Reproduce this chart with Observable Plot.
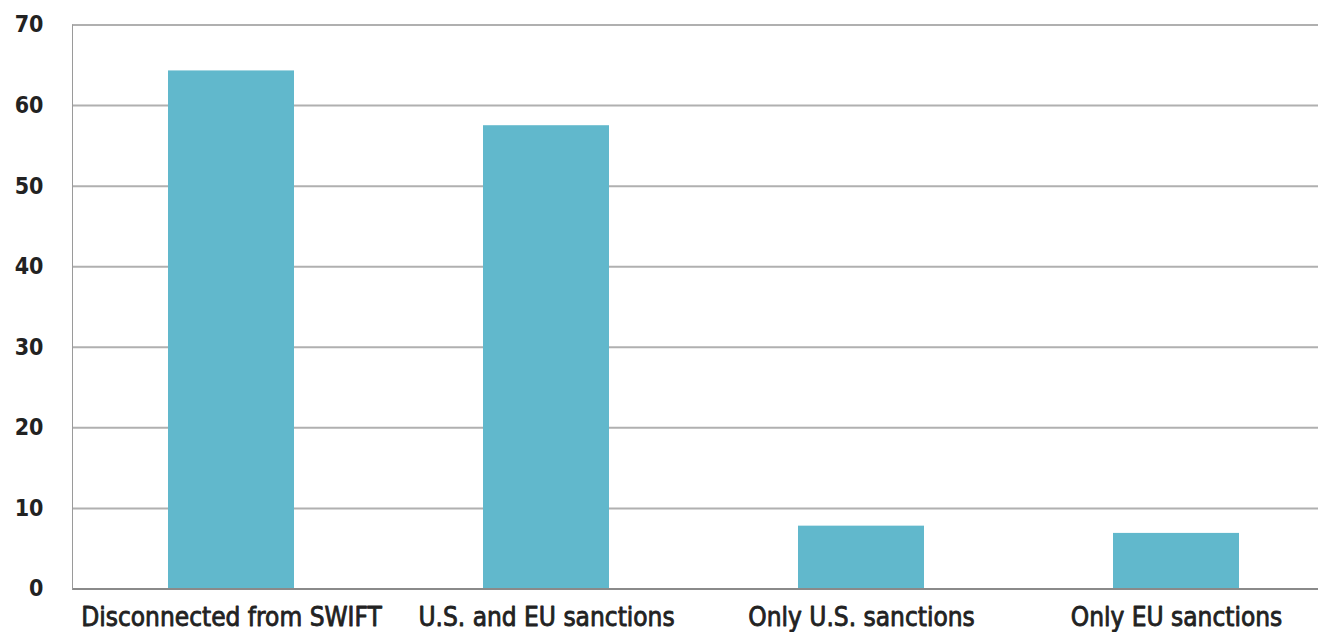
<!DOCTYPE html>
<html>
<head>
<meta charset="utf-8">
<script src="https://cdn.jsdelivr.net/npm/d3@7"></script>
<script src="https://cdn.jsdelivr.net/npm/@observablehq/plot@0.6"></script>
<style>
  html, body { margin: 0; padding: 0; background: #ffffff; }
  #chart svg { display: block; }
</style>
</head>
<body>
<div id="chart"></div>
<script>
// Share of respondents by sanction scenario
const categories = [
  "Disconnected from SWIFT",
  "U.S. and EU sanctions",
  "Only U.S. sanctions",
  "Only EU sanctions"
];
const values = [64.3, 57.5, 7.8, 6.9];
const yTicks = [0, 10, 20, 30, 40, 50, 60, 70];

const data = categories.map((c, i) => ({category: c, value: values[i]}));

const chart = Plot.plot({
  width: 1318,
  height: 632,
  marginLeft: 72,
  marginRight: 0,
  marginTop: 24.5,
  marginBottom: 43.5,
  style: {background: "#ffffff", color: "#222222"},
  x: {
    type: "band",
    domain: categories,
    paddingInner: 0.6,
    paddingOuter: 0.2733,
    align: 0.549,
    label: null
  },
  y: {domain: [0, 70], label: null},
  marks: [
    Plot.gridY(yTicks, {stroke: "#b0b0b0", strokeOpacity: 1, strokeWidth: 2}),
    Plot.barY(data, {x: "category", y: "value", fill: "#61b8cc"}),
    Plot.ruleY([0], {stroke: "#8a8a8a", strokeWidth: 2}),
    Plot.frame({anchor: "left", stroke: "#9a9a9a", strokeWidth: 1}),
    Plot.axisY(yTicks, {
      tickSize: 0,
      tickPadding: 29,
      fontSize: 23,
      fontFamily: "DejaVu Sans Condensed",
      fontWeight: "bold",
      fill: "#222222",
      label: null
    }),
    Plot.axisX({
      tickSize: 0,
      tickPadding: 19,
      fontSize: 26,
      fontFamily: "DejaVu Sans Condensed",
      fill: "#222222",
      textStroke: "#222222",
      textStrokeWidth: 0.8,
      textStrokeOpacity: 1,
      label: null
    })
  ]
});

document.getElementById("chart").appendChild(chart);
</script>
</body>
</html>
